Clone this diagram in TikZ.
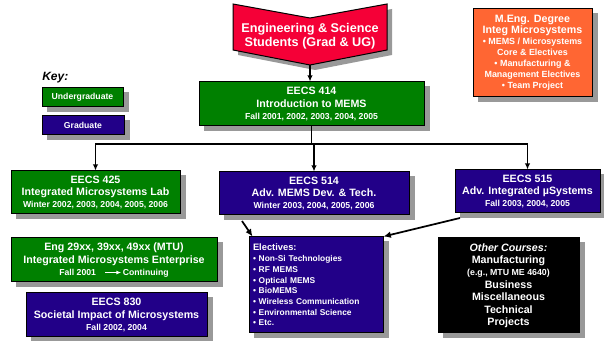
\documentclass[tikz,border=0pt]{standalone}
\usepackage{fontspec}
\setmainfont{Liberation Sans}
\usetikzlibrary{fit,arrows.meta,backgrounds}
\definecolor{ugreen}{RGB}{0,128,0}
\definecolor{gblue}{RGB}{34,0,136}
\definecolor{bred}{RGB}{245,0,55}
\definecolor{morange}{RGB}{255,102,51}
\definecolor{shgray}{RGB}{153,153,153}
\newcommand\fsm[1]{{\fontsize{6.5}{9}\selectfont #1}}
\newcommand\fbul[1]{{\fontsize{6.7}{8}\selectfont #1}}
\tikzset{
  box/.style={draw=black,line width=0.75pt,inner sep=0pt},
  ug/.style={box,fill=ugreen},
  gr/.style={box,fill=gblue},
  txt/.style={inner sep=0pt,text=white,align=center,font={\bfseries\fontsize{8}{9.5}\selectfont}},
  conn/.style={line width=1pt,-{Latex[length=4.5pt,width=4pt]}},
  conntwo/.style={line width=1.3pt,-{Latex[length=5.5pt,width=5pt]}},
}
\begin{document}
\begin{tikzpicture}[x=0.75pt,y=-0.75pt]
\useasboundingbox (0,0) rectangle (604,341);
% banner
\fill[shgray] (238,9)--(315,23)--(392,9)--(392,55)--(315,70)--(238,55)--cycle;
\filldraw[fill=bred,draw=black,line width=0.75pt] (233,4)--(310,18)--(387,4)--(387,50)--(310,65)--(233,50)--cycle;
\node[txt,font={\bfseries\fontsize{9.5}{10.5}\selectfont}] (students) at (310,36)
  {Engineering \& Science\\Students (Grad \& UG)};
\coordinate (btip) at (310,65);
% key
\node[font={\bfseries\itshape\fontsize{9}{10}\selectfont},anchor=west,inner sep=0pt] (key) at (42,78) {Key:};
\node[ug,fit={(42,88) (123,107)}] (kug) {};
\node[txt,font={\bfseries\fontsize{6.5}{8}\selectfont}] (tkug) at (kug.center) {Undergraduate};
\node[gr,fit={(42,116) (124,135)}] (kgr) {};
\node[txt,font={\bfseries\fontsize{6.5}{8}\selectfont}] (tkgr) at (kgr.center) {Graduate};
% M.Eng
\node[box,fill=morange,fit={(473,9) (592,97)}] (meng) {};
\node[txt,font={\bfseries\fontsize{8}{8.2}\selectfont}] (tmeng) at (meng.center)
  {M.Eng. Degree\\Integ Microsystems\\
   \fbul{• MEMS / Microsystems}\\\fbul{Core \& Electives}\\\fbul{• Manufacturing \&}\\\fbul{Management Electives}\\\fbul{• Team Project}};
% courses
\node[ug,fit={(199,82) (424,126)}] (e414) {};
\node[txt] (t414) at (e414.center)
  {EECS 414\\Introduction to MEMS\\[-0.5pt]\fsm{Fall 2001, 2002, 2003, 2004, 2005}};
\node[ug,fit={(11,171) (180,214)}] (e425) {};
\node[txt] (t425) at (e425.center)
  {EECS 425\\Integrated Microsystems Lab\\[-0.5pt]\fsm{Winter 2002, 2003, 2004, 2005, 2006}};
\node[gr,fit={(219,172) (409,215)}] (e514) {};
\node[txt] (t514) at (e514.center)
  {EECS 514\\Adv. MEMS Dev. \& Tech.\\[-0.5pt]\fsm{Winter 2003, 2004, 2005, 2006}};
\node[gr,fit={(455,170) (600,213)}] (e515) {};
\node[txt] (t515) at (e515.center)
  {EECS 515\\Adv. Integrated µSystems\\[-0.5pt]\fsm{Fall 2003, 2004, 2005}};
\node[ug,fit={(11,238) (217,282)}] (eng) {};
\node[txt] (teng) at (eng.center)
  {Eng 29xx, 39xx, 49xx (MTU)\\Integrated Microsystems Enterprise\\[-0.5pt]\fsm{Fall 2001\quad\tikz[baseline=-0.6ex]\draw[white,line width=0.6pt,-{Latex[length=3.5pt,width=3pt]}] (0pt,0pt)--(12pt,0pt);\,Continuing}};
\node[gr,fit={(26,293) (207,337)}] (e830) {};
\node[txt] (t830) at (e830.center)
  {EECS 830\\Societal Impact of Microsystems\\[-0.5pt]\fsm{Fall 2002, 2004}};
\node[gr,fit={(249,237) (383,333)}] (elect) {};
\node[txt,align=left,text width=94.5pt,font={\bfseries\fontsize{6.3}{8}\selectfont}] (telect) at (elect.center)
  {{\fontsize{7}{8}\selectfont Electives:}\\[0.3pt]
   • Non-Si Technologies\\• RF MEMS\\• Optical MEMS\\• BioMEMS\\• Wireless Communication\\• Environmental Science\\• Etc.};
\node[box,fill=black,fit={(438,238) (579,333)}] (other) {};
\node[txt,font={\bfseries\fontsize{8}{9.3}\selectfont}] (tother) at (other.center)
  {\textit{Other Courses:}\\Manufacturing\\{\fontsize{6.6}{9}\selectfont (e.g., MTU ME 4640)}\\Business\\Miscellaneous\\Technical\\Projects};
% shadows
\begin{scope}[on background layer]
\foreach \n in {kug,kgr,meng,e414,e425,e514,e515,eng,e830,elect,other}
  \fill[shgray] ([shift={(5,5)}]\n.north west) rectangle ([shift={(5,5)}]\n.south east);
\end{scope}
% connectors
\draw[conn] (btip) -- (btip|-e414.north);
\coordinate (j) at (312,144);
\draw[line width=1pt] (e414.south) -- (e414.south|-j);
\draw[conn] (e414.south|-j) -| (e425.north);
\draw[conn] (e414.south|-j) -| (e515.north);
\draw[conn] (e514.north|-j) -- (e514.north);
\coordinate (sa) at (242,221);
\coordinate (sb) at (460,218);
\draw[conntwo] (sa) -- ([xshift=3pt]elect.north west);
\draw[conntwo] (sb) -- (elect.north east);
\end{tikzpicture}
\end{document}
